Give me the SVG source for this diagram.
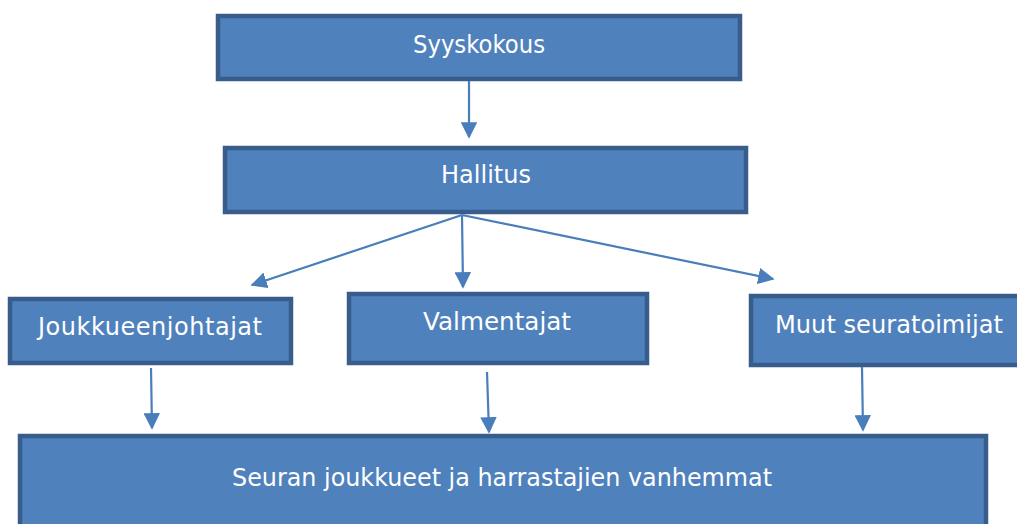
<svg xmlns="http://www.w3.org/2000/svg" width="1017" height="524" viewBox="0 0 1017 524">
<style>
.box{fill:#4f81bd;stroke:#385d8a;stroke-width:4.5}
.lbl{fill:#ffffff;font-family:"DejaVu Sans",sans-serif;font-size:24px}
.conn{stroke:#4a7ebb;stroke-width:2.2;fill:none;marker-end:url(#ah)}
</style>
<defs>
<marker id="ah" viewBox="0 0 10 10" refX="9" refY="5" markerWidth="7.5" markerHeight="7.5" orient="auto" markerUnits="strokeWidth">
<path d="M0,0 L10,5 L0,10 z" fill="#4a7ebb"/>
</marker>
</defs>
<rect width="1017" height="524" fill="#ffffff"/>
<g id="syyskokous"><rect class="box" x="218" y="16" width="522" height="63"/><text class="lbl" x="413" y="53" textLength="132" lengthAdjust="spacingAndGlyphs">Syyskokous</text></g>
<g id="hallitus"><rect class="box" x="225" y="148" width="521" height="64"/><text class="lbl" x="441" y="183" textLength="90" lengthAdjust="spacingAndGlyphs">Hallitus</text></g>
<g id="joukkueenjohtajat"><rect class="box" x="10" y="299" width="281" height="64"/><text class="lbl" x="38" y="335" textLength="224">Joukkueenjohtajat</text></g>
<g id="valmentajat"><rect class="box" x="349" y="294" width="298" height="69"/><text class="lbl" x="423" y="330" textLength="148" lengthAdjust="spacingAndGlyphs">Valmentajat</text></g>
<g id="muut"><rect class="box" x="751" y="296" width="270" height="69"/><text class="lbl" x="775" y="333" textLength="228" lengthAdjust="spacingAndGlyphs">Muut seuratoimijat</text></g>
<g id="seuran"><rect class="box" x="20" y="436" width="966" height="95"/><text class="lbl" x="232" y="486" textLength="540" lengthAdjust="spacingAndGlyphs">Seuran joukkueet ja harrastajien vanhemmat</text></g>
<g id="connectors">
<line class="conn" x1="469" y1="81" x2="469" y2="137"/>
<line class="conn" x1="462" y1="215" x2="252" y2="285"/>
<line class="conn" x1="462" y1="215" x2="463" y2="287"/>
<line class="conn" x1="462" y1="215" x2="773" y2="279"/>
<line class="conn" x1="151" y1="368" x2="152" y2="428"/>
<line class="conn" x1="487" y1="372" x2="489" y2="432"/>
<line class="conn" x1="862" y1="367" x2="863" y2="430"/>
</g>
</svg>
